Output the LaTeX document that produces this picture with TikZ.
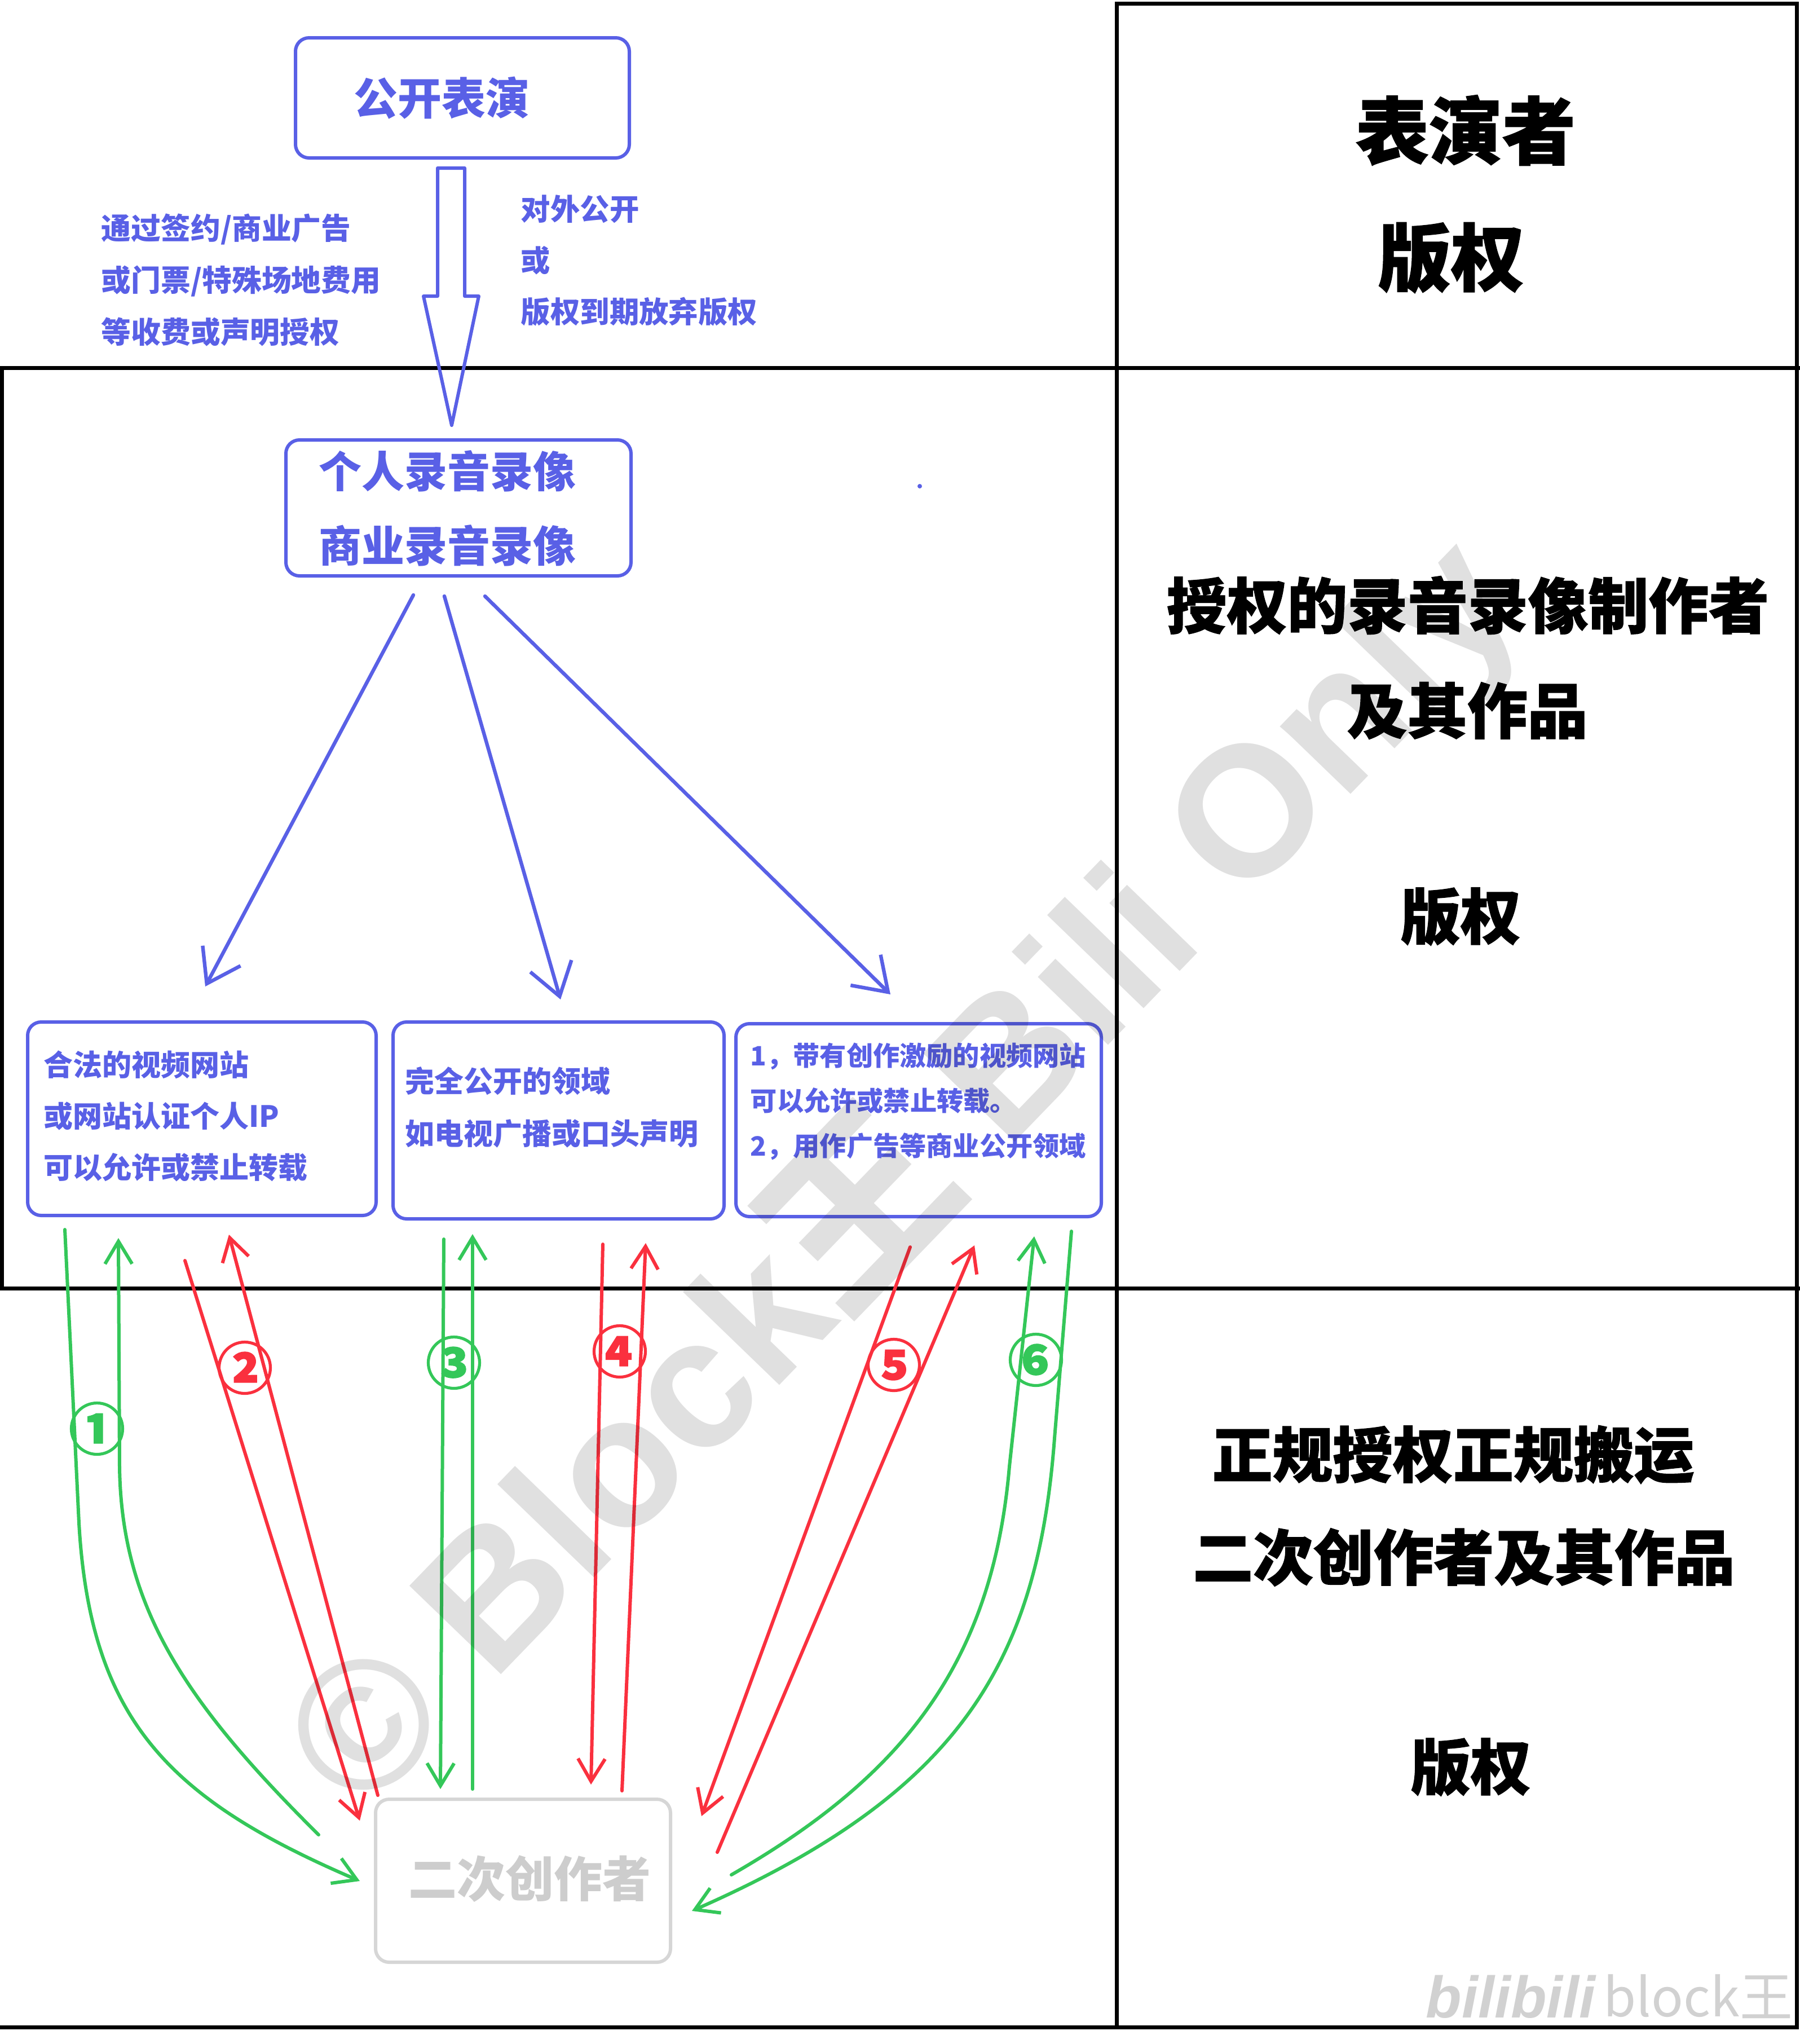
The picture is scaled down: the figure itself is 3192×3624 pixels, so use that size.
\documentclass[tikz,border=0pt]{standalone}
\usepackage{fontspec}
\usetikzlibrary{arrows.meta}
\newfontfamily\cjk{Noto Sans CJK SC}
\newfontfamily\cjkh{Noto Sans CJK SC}[BoldFeatures={FakeBold=1.2}]
\newfontfamily\wmlat{Liberation Sans}
\newcommand\fsz[2]{\fontsize{#1}{#2}\selectfont}
\definecolor{bl}{RGB}{89,96,230}
\definecolor{gr}{RGB}{52,199,89}
\definecolor{rd}{RGB}{250,48,62}
\definecolor{lg}{RGB}{214,214,214}
\definecolor{lgt}{RGB}{205,205,205}
\begin{document}
\begin{tikzpicture}[x=0.25pt,y=-0.25pt,
  gridline/.style={line width=1.75pt,black,line cap=rect},
  bluebox/.style={draw=bl,line width=1.5pt,rounded corners=6pt,inner sep=0pt},
  graybox/.style={draw=lg,line width=1.5pt,rounded corners=6pt,inner sep=0pt},
  bluetxt/.style={text=bl,inner sep=0pt,align=left},
  headtxt/.style={text=black,inner sep=0pt,font=\cjkh\bfseries\fsz{32.5pt}{32.5pt}},
  subtxt/.style={text=black,inner sep=0pt,font=\cjkh\bfseries\fsz{26.7pt}{26.7pt}},
  barrow/.style={draw=bl,line width=1.6pt,line cap=round,-{Straight Barb[length=14pt,width=19pt]}},
  garrow/.style={draw=gr,line width=1.5pt,line cap=round,-{Straight Barb[length=10pt,width=12pt]}},
  rarrow/.style={draw=rd,line width=1.5pt,line cap=round,-{Straight Barb[length=10pt,width=12pt]}},
  numlab/.style={inner sep=0pt,font=\cjkh\bfseries\fsz{25pt}{25pt}}
]
\useasboundingbox (0,0) rectangle (3192,3624);

% grid
\draw[gridline] (1980,6) -- (3186,6) -- (3186,3594);
\draw[gridline] (1980,6) -- (1980,3594);
\draw[gridline] (0,652) -- (3192,652);
\draw[gridline] (0,2284) -- (3192,2284);
\draw[gridline] (0,3594) -- (3186,3594);
\draw[gridline] (3,652) -- (3,2284);

% right column texts
\node[headtxt] (t1) at (2599,231) {表演者};
\node[headtxt] (t2) at (2573,457) {版权};
\node[subtxt] (t3) at (2603,1073) {授权的录音录像制作者};
\node[subtxt] (t4) at (2602,1260) {及其作品};
\node[subtxt] (t5) at (2590,1625) {版权};
\node[subtxt] (t6) at (2577,2579) {正规授权正规搬运};
\node[subtxt] (t7) at (2596,2761) {二次创作者及其作品};
\node[subtxt] (t8) at (2608,3133) {版权};

% top box
\node[bluebox,minimum width=148pt,minimum height=53.25pt] (perf) at (820,173.5) {};
\node[bluetxt,font=\cjk\bfseries\fsz{19.5pt}{19.5pt}] (perft) at (783,174) {公开表演};

% hollow arrow
\draw[bl,line width=1.5pt,line join=round] (776,298) -- (824,298) -- (824,525) -- (849,525) -- (801,754) -- (751,525) -- (776,525) -- cycle;

\node[bluetxt,anchor=west,font=\cjk\bfseries\fsz{13.2pt}{23pt}] (lab1) at (179,496) {通过签约/商业广告\\或门票/特殊场地费用\\等收费或声明授权};
\node[bluetxt,anchor=west,font=\cjk\bfseries\fsz{13.1pt}{22.75pt}] (lab2) at (923,462) {对外公开\\或\\版权到期放弃版权};

% recording box
\node[bluebox,minimum width=153pt,minimum height=60.25pt] (rec) at (813,900.5) {};
\node[bluetxt,font=\cjk\bfseries\fsz{19pt}{33pt}] (rect) at (793,901) {个人录音录像\\商业录音录像};
\node[circle,fill=bl,inner sep=0pt,minimum size=2pt] (dot) at (1631,862) {};

% three boxes
\node[bluebox,minimum width=154.5pt,minimum height=85.75pt] (boxA) at (358,1983.5) {};
\node[bluebox,minimum width=146.75pt,minimum height=87.25pt] (boxB) at (990.5,1986.5) {};
\node[bluebox,minimum width=162pt,minimum height=85.5pt] (boxC) at (1629,1986) {};
\node[bluetxt,anchor=west,font=\cjk\bfseries\fsz{13pt}{22.75pt}] (ta) at (77,1979) {合法的视频网站\\或网站认证个人IP\\可以允许或禁止转载};
\node[bluetxt,anchor=west,font=\cjk\bfseries\fsz{13pt}{23.25pt}] (tb) at (718,1963) {完全公开的领域\\如电视广播或口头声明};
\node[bluetxt,anchor=west,font=\cjk\bfseries\fsz{11.8pt}{20pt}] (tc) at (1330,1953) {1，带有创作激励的视频网站\\可以允许或禁止转载。\\2，用作广告等商业公开领域};

% blue arrows
\coordinate (b1s) at (733,1055); \coordinate (b1e) at (364,1749);
\coordinate (b2s) at (788,1057); \coordinate (b2e) at (994,1772);
\coordinate (b3s) at (860,1057); \coordinate (b3e) at (1579,1763);
\draw[barrow] (b1s) -- (b1e);
\draw[barrow] (b2s) -- (b2e);
\draw[barrow] (b3s) -- (b3e);

% secondary creator box
\node[graybox,minimum width=130.75pt,minimum height=72.25pt] (sec) at (927.5,3334.5) {};
\node[inner sep=0pt,text=lgt,font=\cjk\bfseries\fsz{21.5pt}{21.5pt}] (sect) at (939,3331) {二次创作者};

% arrows 1
\coordinate (g1s) at (115,2180); \coordinate (g1e) at (638,3335);
\coordinate (g1bs) at (565,3253); \coordinate (g1be) at (210,2195);
\draw[garrow] (g1s) -- (140,2700) .. controls (160,3050) and (300,3190) .. (g1e);
\draw[garrow] (g1bs) .. controls (330,3020) and (215,2850) .. (212,2600) -- (g1be);
% arrows 2
\coordinate (r2as) at (328,2235); \coordinate (r2ae) at (638,3228);
\coordinate (r2bs) at (670,3183); \coordinate (r2be) at (406,2189);
\draw[rarrow] (r2as) -- (r2ae);
\draw[rarrow] (r2bs) -- (r2be);
% arrows 3
\coordinate (g3as) at (787,2197); \coordinate (g3ae) at (781,3172);
\coordinate (g3bs) at (838,3172); \coordinate (g3be) at (838,2188);
\draw[garrow] (g3as) -- (g3ae);
\draw[garrow] (g3bs) -- (g3be);
% arrows 4
\coordinate (r4as) at (1069,2206); \coordinate (r4ae) at (1048,3164);
\coordinate (r4bs) at (1103,3175); \coordinate (r4be) at (1145,2204);
\draw[rarrow] (r4as) -- (r4ae);
\draw[rarrow] (r4bs) -- (r4be);
% arrows 5
\coordinate (r5as) at (1614,2211); \coordinate (r5ae) at (1244,3220);
\coordinate (r5bs) at (1272,3284); \coordinate (r5be) at (1728,2208);
\draw[rarrow] (r5as) -- (r5ae);
\draw[rarrow] (r5bs) -- (r5be);
% arrows 6
\coordinate (g6as) at (1900,2183); \coordinate (g6ae) at (1227,3388);
\coordinate (g6bs) at (1297,3324); \coordinate (g6be) at (1834,2192);
\draw[garrow] (g6as) -- (1870,2550) .. controls (1840,2950) and (1700,3180) .. (g6ae);
\draw[garrow] (g6bs) .. controls (1600,3150) and (1760,2950) .. (1790,2600) -- (g6be);

% number labels
\node[numlab,text=gr] (n1) at (172,2533) {①};
\node[numlab,text=rd] (n2) at (434,2425) {②};
\node[numlab,text=gr] (n3) at (805,2416) {③};
\node[numlab,text=rd] (n4) at (1099,2396) {④};
\node[numlab,text=rd] (n5) at (1585,2420) {⑤};
\node[numlab,text=gr] (n6) at (1837,2411) {⑥};

% logo and watermark
\node[anchor=west,inner sep=0pt,text=black!18,font=\wmlat\bfseries\itshape\fsz{26pt}{26pt}] (logo1) at (2528,3540) {bilibili};
\node[anchor=west,inner sep=0pt,text=black!18,font=\cjk\fsz{23.5pt}{23.5pt}] (logo2) at (2843,3540) {block王};
\node[rotate=46,inner sep=0pt,text=black,opacity=0.12,font=\wmlat\bfseries\fsz{82pt}{82pt}] (wm) at (1606,2086) {© Block{\cjk\bfseries 王} Bili Only};
\end{tikzpicture}
\end{document}
